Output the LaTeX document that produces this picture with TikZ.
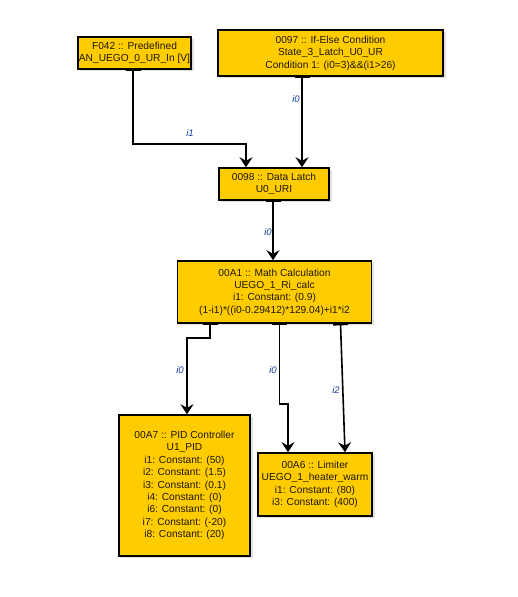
\documentclass[tikz,border=0pt]{standalone}
\usepackage{fontspec}
\setmainfont{Liberation Sans}
\usetikzlibrary{arrows.meta,calc}
\definecolor{boxfill}{RGB}{255,204,0}
\definecolor{boxtext}{RGB}{30,25,0}
\definecolor{lblblue}{RGB}{20,60,150}
\tikzset{
  blk/.style={draw=black, line width=1.5pt, fill=boxfill, text=boxtext, align=center,
    font=\fontsize{10.2}{12.4}\selectfont, inner sep=0pt, anchor=center},
  shadowbox/.style={fill=black!12, draw=none},
  conn/.style={line width=1.6pt, draw=black, {Bar[width=15pt,line width=1.6pt]}-{Stealth[length=10pt,width=13pt,inset=3.5pt]}},
  lbl/.style={text=lblblue, font=\fontsize{9.5}{10}\selectfont\itshape, inner sep=1pt}
}
\begin{document}
\begin{tikzpicture}[x=1pt,y=-1pt]
\useasboundingbox (0,0) rectangle (518,597);
\fill[white] (0,0) rectangle (518,597);
% shadows
\fill[shadowbox] (80,39) rectangle (194,71);
\fill[shadowbox] (220,32) rectangle (446,78);
\fill[shadowbox] (221,170) rectangle (332,202);
\fill[shadowbox] (179,263) rectangle (374,325);
\fill[shadowbox] (121,417) rectangle (253,558);
\fill[shadowbox] (260,455) rectangle (375,518);
% nodes
\node[blk, minimum width=113pt, minimum height=32pt] (f042) at (134.5,53) {F042 :: Predefined\\AN\_UEGO\_0\_UR\_In [V]};
\node[blk, minimum width=225pt, minimum height=46pt] (c097) at (330.5,53) {0097 :: If-Else Condition\\State\_3\_Latch\_U0\_UR\\Condition 1: (i0=3)\&\&(i1>26)};
\node[blk, minimum width=110pt, minimum height=32pt] (latch) at (274,184) {0098 :: Data Latch\\U0\_URI};
\node[blk, minimum width=194pt, minimum height=62pt] (math) at (274.5,292) {00A1 :: Math Calculation\\UEGO\_1\_Ri\_calc\\i1: Constant: (0.9)\\(1-i1)*((i0-0.29412)*129.04)+i1*i2};
\node[blk, minimum width=131pt, minimum height=141pt] (pid) at (184.5,485.5) {00A7 :: PID Controller\\U1\_PID\\i1: Constant: (50)\\i2: Constant: (1.5)\\i3: Constant: (0.1)\\i4: Constant: (0)\\i6: Constant: (0)\\i7: Constant: (-20)\\i8: Constant: (20)};
\node[blk, minimum width=114pt, minimum height=63pt] (lim) at (315,484.5) {00A6 :: Limiter\\UEGO\_1\_heater\_warm\\i1: Constant: (80)\\i3: Constant: (400)};
% connectors
\draw[conn] ([xshift=-1.5pt]f042.south) -- ++(0,74) -| ([xshift=-28pt]latch.north);
\draw[conn] ([xshift=-28.5pt]c097.south) -- ([xshift=28pt]latch.north);
\draw[conn] ([xshift=-1pt]latch.south) -- ([xshift=-1.5pt]math.north);
\draw[conn] ([xshift=-64.5pt]math.south) -- ++(0,14) -| ([xshift=2.5pt]pid.north);
\draw[conn] ([xshift=5pt]math.south) -- ++(0,80) -| ([xshift=-27pt]lim.north);
\draw[conn] ([xshift=66pt]math.south) -- ([xshift=30pt]lim.north);
% labels
\node[lbl] (l1) at (190,133) {i1};
\node[lbl] (l2) at (296,99) {i0};
\node[lbl] (l3) at (268,232) {i0};
\node[lbl] (l4) at (180,370) {i0};
\node[lbl] (l5) at (273,370) {i0};
\node[lbl] (l6) at (336,390) {i2};
\end{tikzpicture}
\end{document}
